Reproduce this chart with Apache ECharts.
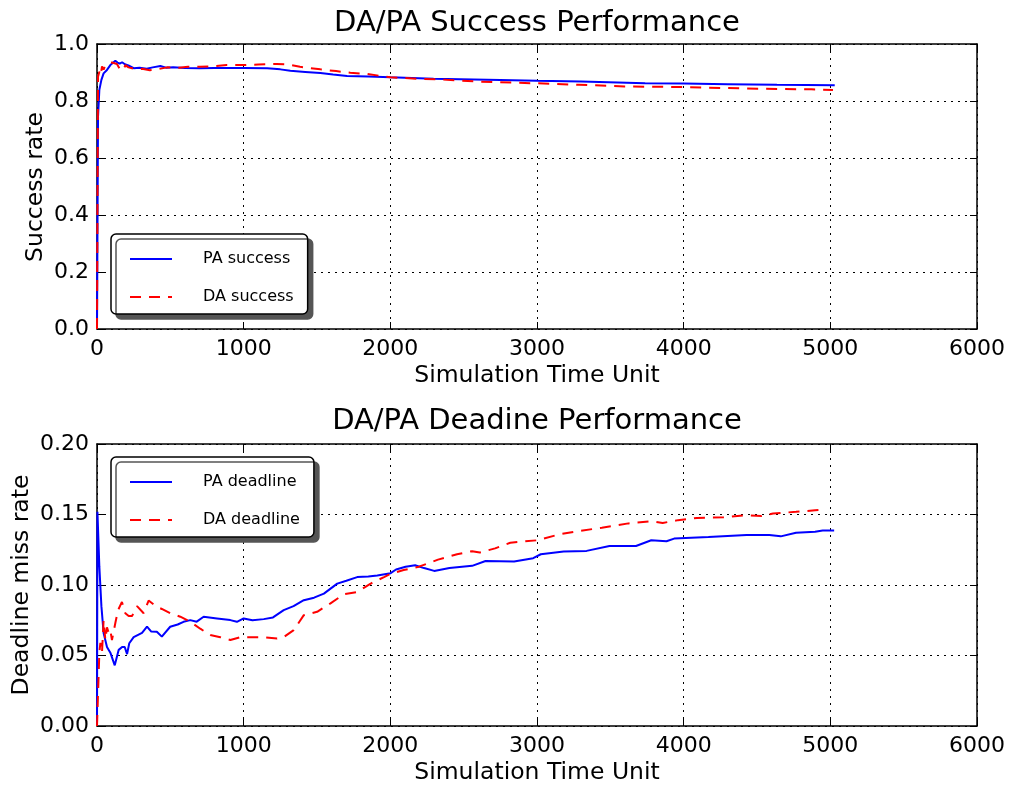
<!DOCTYPE html>
<html>
<head>
<meta charset="utf-8">
<title>DA/PA Performance</title>
<script src="https://cdn.jsdelivr.net/npm/echarts@6/dist/echarts.min.js"></script>
<style>
  html, body { margin: 0; padding: 0; background: #fff; }
  #chart { width: 1014px; height: 786px; }
</style>
</head>
<body>
<div id="chart"></div>
<script>
// ---- Success rate over simulation time ----
const paSuccessTime = [0, 7, 16, 30, 45, 68, 91, 125, 140, 155, 171, 190, 214, 250, 290, 339, 380, 432, 470, 519, 600, 700, 800, 900, 1000, 1160, 1250, 1318, 1420, 1523, 1610, 1705, 1850, 2000, 2295, 2750, 3000, 3300, 3737, 4000, 4300, 4636, 5030];
const paSuccessRate = [0, 0.745, 0.839, 0.874, 0.897, 0.909, 0.926, 0.941, 0.935, 0.931, 0.936, 0.929, 0.925, 0.915, 0.917, 0.913, 0.918, 0.923, 0.917, 0.918, 0.916, 0.915, 0.916, 0.916, 0.916, 0.915, 0.911, 0.906, 0.902, 0.898, 0.893, 0.888, 0.886, 0.883, 0.878, 0.874, 0.871, 0.868, 0.862, 0.861, 0.859, 0.857, 0.855];

const daSuccessTime = [0, 7, 16, 25, 34, 45, 57, 80, 102, 136, 159, 182, 193, 215, 239, 270, 307, 360, 420, 477, 560, 620, 702, 800, 884, 1000, 1100, 1225, 1300, 1384, 1523, 1630, 1727, 1839, 2000, 2227, 2325, 2614, 3000, 3286, 3597, 4000, 4403, 4870, 5018];
const daSuccessRate = [0, 0.885, 0.903, 0.89, 0.921, 0.91, 0.926, 0.932, 0.935, 0.930, 0.909, 0.909, 0.926, 0.918, 0.915, 0.91, 0.913, 0.908, 0.912, 0.918, 0.917, 0.920, 0.920, 0.922, 0.926, 0.926, 0.928, 0.930, 0.928, 0.920, 0.911, 0.905, 0.899, 0.895, 0.883, 0.877, 0.876, 0.868, 0.862, 0.857, 0.851, 0.849, 0.844, 0.841, 0.839];

// ---- Deadline miss rate over simulation time ----
const paDeadlineTime = [0, 3, 7, 16, 30, 45, 68, 91, 121, 148, 171, 189, 205, 220, 250, 307, 341, 370, 408, 442, 499, 550, 590, 636, 680, 727, 818, 909, 954, 1000, 1060, 1137, 1200, 1273, 1340, 1410, 1480, 1547, 1638, 1700, 1774, 1850, 1911, 2002, 2039, 2104, 2169, 2230, 2299, 2403, 2558, 2649, 2844, 2974, 3026, 3182, 3338, 3494, 3675, 3779, 3883, 3935, 4169, 4429, 4584, 4662, 4766, 4896, 4948, 5026];
const paDeadlineRate = [0, 0.152, 0.151, 0.113, 0.085, 0.066, 0.056, 0.052, 0.043, 0.054, 0.056, 0.056, 0.051, 0.0587, 0.063, 0.066, 0.0705, 0.067, 0.0669, 0.0634, 0.0704, 0.072, 0.0739, 0.0751, 0.074, 0.0775, 0.0763, 0.0751, 0.0739, 0.0763, 0.075, 0.0758, 0.077, 0.0822, 0.085, 0.0892, 0.091, 0.0939, 0.101, 0.103, 0.1056, 0.106, 0.1068, 0.1084, 0.111, 0.113, 0.114, 0.112, 0.110, 0.112, 0.1136, 0.117, 0.1167, 0.119, 0.1218, 0.1237, 0.1242, 0.1277, 0.1277, 0.1317, 0.131, 0.1329, 0.134, 0.1354, 0.1354, 0.1345, 0.137, 0.1378, 0.1387, 0.1387];

const daDeadlineTime = [0, 7, 16, 23, 34, 45, 57, 68, 80, 91, 102, 125, 143, 170, 193, 216, 239, 273, 318, 352, 408, 442, 499, 568, 636, 704, 772, 841, 909, 977, 1045, 1137, 1228, 1273, 1341, 1410, 1501, 1592, 1683, 1774, 1866, 1957, 2002, 2091, 2195, 2325, 2455, 2558, 2610, 2714, 2818, 3000, 3156, 3312, 3442, 3623, 3779, 3857, 3961, 4091, 4273, 4429, 4532, 4610, 4766, 4896, 4961];
const daDeadlineRate = [0, 0.0, 0.052, 0.059, 0.052, 0.075, 0.061, 0.070, 0.066, 0.068, 0.061, 0.073, 0.082, 0.088, 0.080, 0.078, 0.078, 0.085, 0.080, 0.089, 0.0845, 0.083, 0.080, 0.0775, 0.074, 0.069, 0.0645, 0.063, 0.061, 0.063, 0.063, 0.063, 0.062, 0.063, 0.068, 0.0786, 0.081, 0.087, 0.0934, 0.095, 0.101, 0.1056, 0.108, 0.1106, 0.113, 0.118, 0.1218, 0.124, 0.123, 0.126, 0.130, 0.1317, 0.136, 0.1387, 0.1406, 0.1437, 0.1453, 0.144, 0.146, 0.1476, 0.148, 0.1495, 0.149, 0.1507, 0.1519, 0.153, 0.1535];

const FONT = 'DejaVu Sans';
const BLUE = '#0000ff';
const RED = '#ff0000';

function pairs(xs, ys) { return xs.map((x, i) => [x, ys[i]]); }

const frame = { show: true, onZero: false, lineStyle: { color: '#000', width: 1.5 } };
const tickIn = { show: true, inside: true, length: 7, lineStyle: { color: '#000', width: 1 } };
const dotted = { show: true, lineStyle: { color: '#000', width: 1, type: [2, 5] } };
const tickFont = { color: '#000', fontFamily: FONT, fontSize: 22 };
const nameFont = { color: '#000', fontFamily: FONT, fontSize: 23.5 };

function timeAxis(gridIndex, mirror) {
  return {
    type: 'value', gridIndex, min: 0, max: 6000, interval: 1000,
    position: mirror ? 'top' : 'bottom',
    name: mirror ? '' : 'Simulation Time Unit',
    nameLocation: 'middle', nameGap: 35,
    nameTextStyle: nameFont,
    axisLine: frame, axisTick: tickIn,
    axisLabel: { show: !mirror, margin: 9, ...tickFont, formatter: v => String(Math.round(v)) },
    splitLine: mirror ? { show: false } : dotted
  };
}

function rateAxis(gridIndex, mirror, max, interval, digits) {
  return {
    type: 'value', gridIndex, min: 0, max, interval,
    position: mirror ? 'right' : 'left',
    axisLine: frame, axisTick: tickIn,
    axisLabel: { show: !mirror, margin: 8, ...tickFont, formatter: v => v.toFixed(digits) },
    splitLine: mirror ? { show: false } : dotted
  };
}

// vertical axis titles, written bottom-to-top beside each plot
function sideTitle(text, x, y) {
  return {
    type: 'text', x, y, rotation: Math.PI / 2,
    style: { text, fill: '#000', font: '23.5px "DejaVu Sans"', align: 'center', verticalAlign: 'middle' }
  };
}

function legendBox(names, left, top) {
  return {
    data: names, orient: 'vertical', left, top,
    padding: [17, 14, 9, 18], itemGap: 22, itemWidth: 42, itemHeight: 14,
    backgroundColor: '#fff', borderColor: '#000', borderWidth: 1.5, borderRadius: 5,
    shadowColor: '#555', shadowBlur: 0, shadowOffsetX: 5, shadowOffsetY: 5,
    itemStyle: { opacity: 0 },
    textStyle: { color: '#000', fontFamily: FONT, fontSize: 16, padding: [0, 0, 0, 26] }
  };
}

const chart = echarts.init(document.getElementById('chart'), null, { renderer: 'canvas' });
chart.setOption({
  animation: false,
  backgroundColor: '#fff',
  textStyle: { fontFamily: FONT },
  title: [
    { text: 'DA/PA Success Performance', left: 537, textAlign: 'center', top: 9, padding: 0,
      textStyle: { color: '#000', fontFamily: FONT, fontSize: 29, fontWeight: 'normal' } },
    { text: 'DA/PA Deadine Performance', left: 537, textAlign: 'center', top: 407, padding: 0,
      textStyle: { color: '#000', fontFamily: FONT, fontSize: 29, fontWeight: 'normal' } }
  ],
  graphic: [
    sideTitle('Success rate', 36, 187),
    sideTitle('Deadline miss rate', 22, 585)
  ],
  grid: [
    { left: 97, top: 44, width: 880, height: 285, containLabel: false },
    { left: 97, top: 444, width: 880, height: 283, containLabel: false }
  ],
  xAxis: [timeAxis(0, false), timeAxis(0, true), timeAxis(1, false), timeAxis(1, true)],
  yAxis: [
    rateAxis(0, false, 1.0, 0.2, 1),
    rateAxis(0, true, 1.0, 0.2, 1),
    rateAxis(1, false, 0.2, 0.05, 2),
    rateAxis(1, true, 0.2, 0.05, 2)
  ],
  legend: [
    legendBox(['PA success', 'DA success'], 111, 234),
    legendBox(['PA deadline', 'DA deadline'], 111, 457)
  ],
  series: [
    { name: 'PA success', type: 'line', xAxisIndex: 0, yAxisIndex: 0, showSymbol: false, symbol: 'none',
      data: pairs(paSuccessTime, paSuccessRate), lineStyle: { color: BLUE, width: 2 }, itemStyle: { color: BLUE } },
    { name: 'DA success', type: 'line', xAxisIndex: 0, yAxisIndex: 0, showSymbol: false, symbol: 'none',
      data: pairs(daSuccessTime, daSuccessRate), lineStyle: { color: RED, width: 2, type: [11, 8] }, itemStyle: { color: RED } },
    { name: 'PA deadline', type: 'line', xAxisIndex: 2, yAxisIndex: 2, showSymbol: false, symbol: 'none',
      data: pairs(paDeadlineTime, paDeadlineRate), lineStyle: { color: BLUE, width: 2 }, itemStyle: { color: BLUE } },
    { name: 'DA deadline', type: 'line', xAxisIndex: 2, yAxisIndex: 2, showSymbol: false, symbol: 'none',
      data: pairs(daDeadlineTime, daDeadlineRate), lineStyle: { color: RED, width: 2, type: [11, 8] }, itemStyle: { color: RED } }
  ]
});
</script>
</body>
</html>
